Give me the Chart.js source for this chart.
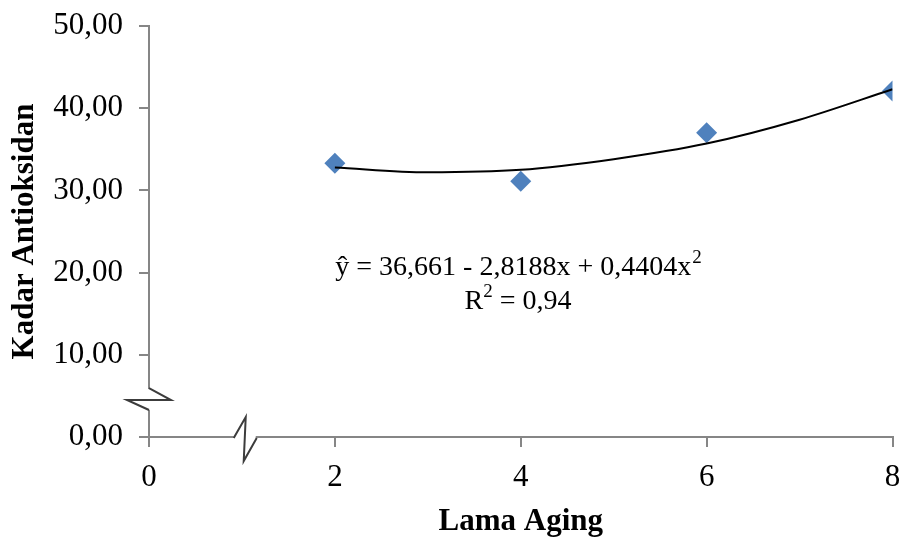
<!DOCTYPE html>
<html>
<head>
<meta charset="utf-8">
<script src="https://cdn.jsdelivr.net/npm/chart.js@4.4.1/dist/chart.umd.min.js"></script>
<style>
  html, body { margin: 0; padding: 0; background: #fff; }
  #wrap { width: 903px; height: 537px; }
</style>
</head>
<body>
<div id="wrap"><canvas id="chartAging"></canvas></div>
<script>
// data
var lamaAging = [2, 4, 6, 8];
var kadar = [33.3, 31.1, 37.0, 42.1];

// polynomial trend line
var trendX = [2, 3, 4, 5, 6, 7, 8];
var trendY = [32.8, 32.2, 32.5, 33.8, 35.7, 38.6, 42.3];

var xTicks = [0, 2, 4, 6, 8];
var yTicks = [0, 10, 20, 30, 40, 50];

var judulX = 'Lama Aging';
var judulY = 'Kadar Antioksidan';
var persamaan = ['ŷ = 36,661 - 2,8188x + 0,4404x', '2'];
var rKuadrat = ['R', '2', ' = 0,94'];

const grey = '#868686';
const serif = "'Liberation Serif', 'Times New Roman', serif";

var titikData = [];
for (var i = 0; i < lamaAging.length; i++) {
	titikData.push({x: lamaAging[i], y: kadar[i]});
}
var garisTren = [];
for (var k = 0; k < trendX.length; k++) {
	garisTren.push({x: trendX[k], y: trendY[k]});
}

// equation text + axis break marks
const hiasan = {
	id: 'hiasan',
	afterDraw(chart) {
		const c = chart.ctx;
		const sx = chart.scales.x;
		const sy = chart.scales.y;
		c.save();

		// equation
		c.fillStyle = '#000';
		c.textBaseline = 'alphabetic';
		c.textAlign = 'left';
		c.font = '28px ' + serif;
		var w1 = c.measureText(persamaan[0]).width;
		c.font = '19px ' + serif;
		var w2 = c.measureText(persamaan[1]).width;
		var cx = 518;
		var x0 = cx - (w1 + w2) / 2;
		c.font = '28px ' + serif;
		c.fillText(persamaan[0], x0, 275);
		c.font = '19px ' + serif;
		c.fillText(persamaan[1], x0 + w1 + 1, 263);

		c.font = '28px ' + serif;
		var r1 = c.measureText(rKuadrat[0]).width;
		var r3 = c.measureText(rKuadrat[2]).width;
		c.font = '19px ' + serif;
		var r2 = c.measureText(rKuadrat[1]).width;
		var rx = cx - (r1 + r2 + r3) / 2;
		c.font = '28px ' + serif;
		c.fillText(rKuadrat[0], rx, 309);
		c.font = '19px ' + serif;
		c.fillText(rKuadrat[1], rx + r1, 297);
		c.font = '28px ' + serif;
		c.fillText(rKuadrat[2], rx + r1 + r2, 309);

		// y axis break
		var ax = sx.left;
		var by = sy.getPixelForValue(4.5);
		c.fillStyle = '#fff';
		c.fillRect(ax - 3, by - 11, 6, 21);
		c.strokeStyle = '#3c3c3c';
		c.lineWidth = 2;
		c.beginPath();
		c.moveTo(ax, by - 12);
		c.lineTo(ax + 22, by);
		c.lineTo(ax - 22, by);
		c.lineTo(ax, by + 10);
		c.stroke();

		// x axis break
		var ay = sy.bottom;
		var bx = sx.getPixelForValue(1.03);
		c.fillStyle = '#fff';
		c.fillRect(bx - 11, ay - 3, 22, 6);
		c.beginPath();
		c.moveTo(bx - 11, ay + 1);
		c.lineTo(bx + 1, ay - 20);
		c.lineTo(bx - 1, ay + 24);
		c.lineTo(bx + 12, ay + 1);
		c.stroke();
		c.restore();
	}
};

const ctx = document.getElementById('chartAging').getContext('2d');

var chartAging = new Chart(ctx, {
	type: 'scatter',
	data: {
		datasets: [
			{
				label: 'Poly. (Kadar)',
				data: garisTren,
				showLine: true,
				fill: false,
				borderColor: '#000',
				borderWidth: 2,
				pointRadius: 0,
				cubicInterpolationMode: 'monotone'
			},
			{
				label: 'Kadar Antioksidan',
				data: titikData,
				pointStyle: 'rectRot',
				pointRadius: 10.5,
				pointHoverRadius: 10.5,
				backgroundColor: '#4f81bd',
				borderColor: '#4f81bd',
				borderWidth: 0
			}
		]
	},
	options: {
		responsive: true,
		maintainAspectRatio: false,
		animation: false,
		layout: {
			padding: {left: 0, right: 10, top: 26, bottom: 0}
		},
		plugins: {
			legend: {display: false},
			tooltip: {enabled: false}
		},
		scales: {
			x: {
				type: 'linear',
				min: 0,
				max: 8,
				afterBuildTicks: function(axis) {
					axis.ticks = xTicks.map(function(v) { return {value: v}; });
				},
				afterFit: function(axis) {
					axis.height = 100;
					axis.paddingLeft = 0;
					axis.paddingRight = 0;
				},
				grid: {
					drawOnChartArea: false,
					drawTicks: true,
					tickLength: 10,
					color: grey,
					lineWidth: 2
				},
				border: {color: grey, width: 2},
				ticks: {
					color: '#000',
					padding: 12,
					font: {family: serif, size: 31}
				},
				title: {
					display: true,
					text: judulX,
					color: '#000',
					padding: {top: 0, bottom: 0},
					font: {family: serif, size: 31, weight: 'bold', lineHeight: 1}
				}
			},
			y: {
				type: 'linear',
				min: 0,
				max: 50,
				afterBuildTicks: function(axis) {
					axis.ticks = yTicks.map(function(v) { return {value: v}; });
				},
				afterFit: function(axis) {
					axis.width = 149;
					axis.paddingTop = 0;
					axis.paddingBottom = 0;
				},
				grid: {
					drawOnChartArea: false,
					drawTicks: true,
					tickLength: 10,
					color: grey,
					lineWidth: 2
				},
				border: {color: grey, width: 2},
				ticks: {
					color: '#000',
					padding: 16,
					font: {family: serif, size: 31},
					callback: function(v) { return v.toFixed(2).replace('.', ','); }
				},
				title: {
					display: true,
					text: judulY,
					color: '#000',
					padding: {top: 9, bottom: 0},
					font: {family: serif, size: 31, weight: 'bold', lineHeight: 1}
				}
			}
		}
	},
	plugins: [hiasan]
});
</script>
</body>
</html>
